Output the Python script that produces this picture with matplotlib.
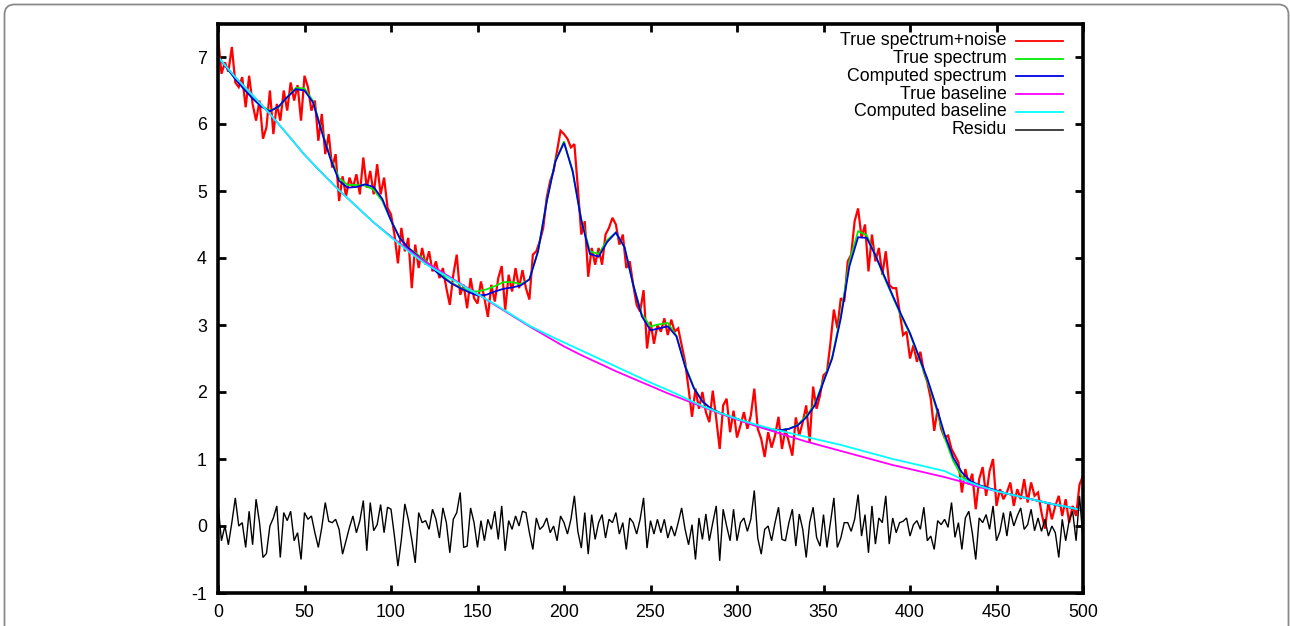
import numpy as np
import matplotlib
matplotlib.use("Agg")
import matplotlib.pyplot as plt
from matplotlib.patches import FancyBboxPatch
from matplotlib.transforms import IdentityTransform

plt.rcParams['font.family'] = ['Liberation Sans', 'DejaVu Sans']
plt.rcParams['axes.unicode_minus'] = False

# ---------------- data ----------------
x_smooth = np.arange(0, 501, 5)          # step 5
true_spectrum = [
    7.00, 6.84, 6.68, 6.53, 6.40, 6.27, 6.20, 6.25, 6.40, 6.54,   # 0-45
    6.53, 6.34, 5.90, 5.50, 5.19, 5.09, 5.09, 5.08, 5.02, 4.85,   # 50-95
    4.56, 4.30, 4.15, 4.06, 3.96, 3.84, 3.73, 3.63, 3.56, 3.51,   # 100-145
    3.50, 3.53, 3.58, 3.64, 3.64, 3.61, 3.68, 4.10, 4.85, 5.45,   # 150-195
    5.74, 5.28, 4.58, 4.10, 4.06, 4.27, 4.38, 4.16, 3.60, 3.16,   # 200-245
    2.98, 3.01, 3.03, 2.84, 2.40, 2.07, 1.86, 1.75, 1.69, 1.64,   # 250-295
    1.60, 1.55, 1.51, 1.47, 1.44, 1.43, 1.45, 1.51, 1.64, 1.82,   # 300-345
    2.17, 2.52, 3.15, 3.95, 4.40, 4.34, 4.04, 3.72, 3.42, 3.13,   # 350-395
    2.86, 2.52, 2.17, 1.77, 1.32, 0.97, 0.74, 0.64, 0.60, 0.56,   # 400-445
    0.53, 0.49, 0.46, 0.43, 0.40, 0.37, 0.34, 0.31, 0.29, 0.26,   # 450-495
    0.23]                                                         # 500
computed_spectrum = [
    7.00, 6.84, 6.67, 6.52, 6.38, 6.26, 6.19, 6.26, 6.40, 6.52,   # 0-45
    6.50, 6.32, 5.88, 5.48, 5.15, 5.05, 5.06, 5.10, 5.06, 4.88,   # 50-95
    4.56, 4.30, 4.15, 4.04, 3.94, 3.82, 3.71, 3.62, 3.55, 3.49,   # 100-145
    3.44, 3.45, 3.50, 3.54, 3.56, 3.59, 3.68, 4.10, 4.84, 5.44,   # 150-195
    5.72, 5.30, 4.56, 4.06, 4.02, 4.24, 4.38, 4.16, 3.60, 3.13,   # 200-245
    2.92, 2.95, 2.98, 2.83, 2.38, 2.06, 1.86, 1.75, 1.69, 1.64,   # 250-295
    1.60, 1.55, 1.51, 1.47, 1.44, 1.43, 1.45, 1.50, 1.62, 1.80,   # 300-345
    2.15, 2.50, 3.10, 3.88, 4.31, 4.30, 4.04, 3.74, 3.44, 3.15,   # 350-395
    2.88, 2.54, 2.20, 1.80, 1.37, 1.02, 0.80, 0.67, 0.61, 0.57,   # 400-445
    0.53, 0.49, 0.46, 0.43, 0.40, 0.37, 0.34, 0.31, 0.29, 0.26,   # 450-495
    0.23]                                                         # 500

x_base = np.arange(0, 501, 10)           # step 10
true_baseline = [
    7.00, 6.70, 6.43, 6.15, 5.85, 5.54, 5.27, 5.01, 4.77, 4.53,   # 0-90
    4.32, 4.12, 3.94, 3.78, 3.62, 3.46, 3.30, 3.14, 2.98, 2.83,   # 100-190
    2.68, 2.55, 2.43, 2.31, 2.20, 2.09, 1.98, 1.88, 1.78, 1.68,   # 200-290
    1.59, 1.50, 1.42, 1.34, 1.26, 1.19, 1.12, 1.05, 0.98, 0.91,   # 300-390
    0.85, 0.79, 0.73, 0.66, 0.58, 0.52, 0.46, 0.40, 0.34, 0.29,   # 400-490
    0.23]                                                         # 500
computed_baseline = [
    7.00, 6.70, 6.43, 6.15, 5.85, 5.54, 5.27, 5.01, 4.77, 4.53,   # 0-90
    4.31, 4.10, 3.91, 3.76, 3.61, 3.46, 3.31, 3.15, 2.99, 2.86,   # 100-190
    2.74, 2.62, 2.50, 2.38, 2.26, 2.14, 2.03, 1.91, 1.79, 1.69,   # 200-290
    1.60, 1.52, 1.45, 1.39, 1.33, 1.27, 1.21, 1.14, 1.07, 1.00,   # 300-390
    0.94, 0.88, 0.82, 0.70, 0.60, 0.52, 0.46, 0.40, 0.34, 0.29,   # 400-490
    0.23]                                                         # 500

x_noise = np.arange(0, 501, 2)           # step 2
spectrum_noise = [
    7.30, 6.75, 6.92, 6.78, 7.15, 6.62, 6.55, 6.70, 6.25, 6.72,   # 0-18
    6.30, 6.05, 6.35, 5.78, 5.95, 6.50, 5.85, 6.30, 6.05, 6.50,   # 20-38
    6.20, 6.62, 6.35, 6.58, 6.05, 6.72, 6.55, 6.20, 6.35, 5.75,   # 40-58
    6.15, 5.55, 5.85, 5.35, 5.55, 4.85, 5.22, 4.92, 5.20, 5.05,   # 60-78
    5.25, 4.95, 5.50, 5.05, 5.30, 4.95, 5.40, 4.95, 5.20, 4.75,   # 80-98
    4.65, 4.35, 3.92, 4.45, 4.10, 4.30, 3.55, 4.20, 3.85, 4.15,   # 100-118
    3.90, 4.10, 3.80, 3.95, 3.70, 3.85, 3.55, 3.30, 3.75, 4.05,   # 120-138
    3.45, 3.60, 3.25, 3.70, 3.40, 3.32, 3.65, 3.40, 3.12, 3.60,   # 140-158
    3.35, 3.70, 3.88, 3.22, 3.75, 3.50, 3.85, 3.55, 3.82, 3.55,   # 160-178
    3.38, 4.05, 4.10, 4.25, 4.45, 4.90, 5.15, 5.30, 5.60, 5.90,   # 180-198
    5.85, 5.78, 5.65, 5.70, 5.05, 4.35, 4.55, 3.72, 4.15, 3.90,   # 200-218
    4.15, 3.90, 4.35, 4.45, 4.60, 4.50, 4.20, 4.35, 3.85, 3.95,   # 220-238
    3.60, 3.30, 3.20, 3.52, 2.65, 3.05, 2.72, 3.00, 2.90, 3.10,   # 240-258
    2.85, 3.08, 2.90, 2.95, 2.70, 2.45, 2.05, 1.63, 2.05, 1.75,   # 260-278
    2.00, 1.70, 1.55, 2.02, 1.60, 1.15, 1.80, 1.90, 1.40, 1.72,   # 280-298
    1.32, 1.50, 1.70, 1.45, 1.65, 2.05, 1.45, 1.30, 1.03, 1.40,   # 300-318
    1.17, 1.35, 1.63, 1.15, 1.45, 1.25, 1.05, 1.62, 1.35, 1.55,   # 320-338
    1.80, 1.25, 2.08, 1.75, 1.95, 2.25, 2.30, 2.73, 3.23, 2.95,   # 340-358
    3.40, 3.35, 3.95, 4.05, 4.55, 4.74, 4.30, 4.50, 3.80, 4.35,   # 360-378
    3.95, 4.15, 3.75, 4.10, 3.60, 3.55, 3.55, 3.20, 2.85, 2.90,   # 380-398
    2.50, 2.70, 2.45, 2.60, 2.30, 2.15, 1.90, 1.42, 1.75, 1.45,   # 400-418
    1.32, 1.35, 1.15, 1.05, 0.95, 0.50, 0.85, 0.62, 0.78, 0.25,   # 420-438
    0.70, 0.88, 0.45, 0.82, 1.00, 0.30, 0.55, 0.40, 0.50, 0.65,   # 440-458
    0.30, 0.55, 0.40, 0.70, 0.35, 0.65, 0.45, 0.50, 0.20, -0.04,  # 460-478
    0.35, 0.10, 0.30, 0.45, 0.15, 0.40, 0.05, 0.30, 0.15, 0.62,   # 480-498
    0.75]                                                         # 500
residu = [
    0.33, -0.22, 0.00, -0.28, 0.05, 0.42, 0.00, 0.05, -0.32, 0.22,   # 0-18
    -0.28, 0.40, 0.05, -0.47, -0.41, 0.00, 0.12, 0.30, -0.47, 0.20,  # 20-38
    0.08, 0.22, -0.22, -0.10, -0.50, 0.20, 0.10, 0.15, -0.10, -0.32, # 40-58
    -0.02, 0.35, 0.07, 0.05, 0.10, -0.05, -0.42, -0.22, -0.02, 0.15, # 60-78
    -0.10, 0.08, 0.38, -0.37, 0.35, -0.07, 0.02, 0.32, -0.10, 0.28,  # 80-98
    0.25, -0.15, -0.60, -0.20, 0.33, 0.10, -0.20, -0.55, 0.20, 0.05, # 100-118
    0.08, -0.05, 0.25, 0.10, -0.18, 0.27, 0.05, -0.40, 0.10, 0.20,   # 120-138
    0.50, -0.32, -0.30, 0.27, 0.05, -0.32, 0.08, -0.22, 0.10, -0.05, # 140-158
    0.22, -0.20, 0.30, -0.37, 0.08, -0.05, 0.15, 0.00, 0.22, 0.20,   # 160-178
    -0.10, -0.35, 0.12, -0.05, 0.00, 0.12, -0.10, 0.00, -0.22, 0.15, # 180-198
    0.05, -0.12, 0.10, 0.45, -0.08, -0.33, 0.20, -0.42, 0.17, -0.20, # 200-218
    0.05, 0.17, -0.18, 0.10, 0.05, 0.20, -0.12, 0.05, -0.35, 0.12,   # 220-238
    0.05, -0.12, 0.10, 0.42, -0.33, 0.08, -0.12, 0.10, -0.10, 0.10,  # 240-258
    -0.18, 0.00, -0.15, 0.05, 0.27, -0.05, -0.28, 0.02, -0.50, 0.12, # 260-278
    -0.20, 0.18, -0.22, 0.05, 0.30, -0.52, 0.25, 0.00, -0.22, 0.25,  # 280-298
    -0.22, 0.05, 0.12, -0.08, 0.10, 0.53, -0.18, -0.42, -0.05, 0.00, # 300-318
    -0.22, 0.05, 0.28, -0.20, -0.22, 0.05, 0.25, -0.30, 0.18, -0.05, # 320-338
    -0.47, 0.05, 0.28, -0.17, -0.30, 0.17, -0.32, 0.05, 0.42, -0.32, # 340-358
    -0.18, 0.05, 0.05, -0.08, 0.10, 0.47, -0.15, 0.17, -0.40, 0.30,  # 360-378
    -0.27, 0.12, 0.05, 0.45, -0.27, 0.12, -0.10, 0.05, 0.07, 0.12,   # 380-398
    -0.15, 0.02, 0.08, -0.05, 0.28, -0.22, -0.15, -0.35, 0.08, 0.02, # 400-418
    0.10, -0.02, 0.35, -0.17, 0.05, -0.35, 0.12, 0.22, -0.10, -0.50, # 420-438
    0.12, 0.05, 0.17, -0.05, 0.30, -0.22, -0.08, 0.20, -0.15, 0.22,  # 440-458
    0.00, 0.15, 0.27, -0.05, 0.02, 0.25, -0.07, 0.12, -0.08, 0.10,   # 460-478
    -0.15, 0.00, -0.10, -0.47, 0.10, -0.22, 0.08, 0.22, -0.22, 0.45, # 480-498
    -0.20]                                                           # 500

series = [
    ("True spectrum+noise", x_noise, spectrum_noise, "#ff0000", 1.6),
    ("True spectrum", x_smooth, true_spectrum, "#00ee00", 1.3),
    ("Computed spectrum", x_smooth, computed_spectrum, "#0000e0", 1.3),
    ("True baseline", x_base, true_baseline, "#ff00ff", 1.3),
    ("Computed baseline", x_base, computed_baseline, "#00ffff", 1.3),
    ("Residu", x_noise, residu, "#000000", 1.0),
]
legend_colors = ["#ff0000", "#00ee00", "#0000e0", "#ff00ff", "#00ffff", "#333333"]

x_ticks = list(range(0, 501, 50))
y_ticks = list(range(-1, 8))

# ---------------- figure ----------------
W, H = 1290, 626
fig = plt.figure(figsize=(W / 100, H / 100), dpi=100)
ax = fig.add_axes([218 / W, 1 - 593 / H, (1083 - 218) / W, (593 - 23.5) / H])

for label, xs, ys, c, lw in series:
    ax.plot(xs, ys, color=c, lw=lw, solid_joinstyle='miter')

ax.set_xlim(0, 500)
ax.set_ylim(-1, 7.5)
ax.set_xticks(x_ticks)
ax.set_yticks(y_ticks)
ax.tick_params(direction='in', length=6, width=2, top=True, right=True,
               labelsize=12.8, pad=8, colors='black')
for s in ax.spines.values():
    s.set_linewidth(2.6)

# legend (gnuplot style: right-aligned text, key line at right)
rows_y = [0.970, 0.938, 0.907, 0.876, 0.845, 0.813]
for (label, *_), c, yy in zip(series, legend_colors, rows_y):
    ax.text(0.912, yy, label, transform=ax.transAxes, ha='right', va='center',
            fontsize=12.8)
    ax.plot([0.923, 0.977], [yy, yy], transform=ax.transAxes, color=c, lw=1.3,
            clip_on=False)

# outer rounded frame
frame = FancyBboxPatch((4.5, -30), 1284, 626 - 4.5 + 30,
                       boxstyle="round,pad=0,rounding_size=10",
                       transform=IdentityTransform(), fill=False,
                       ec='#8a8a8a', lw=1.3)
fig.patches.append(frame)

fig.savefig("out.png", dpi=100)
